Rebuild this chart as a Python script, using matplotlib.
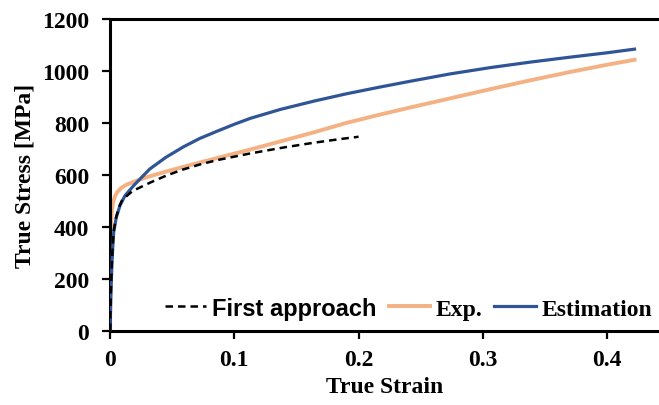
import matplotlib.pyplot as plt
from matplotlib.ticker import FuncFormatter

# Exp. flow curve (true strain, true stress in MPa)
exp_strain = [0, 0.0003, 0.0008, 0.0015, 0.0025, 0.004, 0.006, 0.009, 0.013, 0.019,
              0.032, 0.045, 0.058, 0.086, 0.113, 0.137, 0.164, 0.19, 0.217, 0.241,
              0.274, 0.306, 0.338, 0.37, 0.4, 0.422]
exp_stress = [0, 250, 400, 462, 496, 518, 535, 550, 562, 574,
              595, 613, 630, 665, 698, 729, 764, 800, 832, 859,
              895, 930, 964, 996, 1024, 1043]

# Estimation
est_strain = [0, 0.0008, 0.0015, 0.0022, 0.003, 0.005, 0.008, 0.012, 0.019, 0.032,
              0.045, 0.059, 0.072, 0.086, 0.1, 0.113, 0.137, 0.164, 0.19, 0.217, 0.241,
              0.274, 0.306, 0.338, 0.37, 0.4, 0.422]
est_stress = [0, 150, 250, 320, 380, 435, 482, 520, 559, 623,
              668, 708, 740, 768, 795, 818, 852, 884, 912, 938, 960,
              989, 1013, 1034, 1053, 1070, 1084]

# First approach
fa_strain = [0, 0.0008, 0.0015, 0.0022, 0.003, 0.005, 0.008, 0.01, 0.018, 0.032,
             0.045, 0.058, 0.072, 0.086, 0.113, 0.14, 0.164, 0.185, 0.2]
fa_stress = [0, 160, 260, 330, 385, 440, 485, 505, 538, 570,
             597, 620, 640, 657, 683, 706, 724, 738, 747]

plt.rcParams['font.family'] = 'Liberation Serif'
plt.rcParams['font.weight'] = 'bold'
plt.rcParams['font.size'] = 17

fig = plt.figure(figsize=(6.59, 4.06), dpi=100)
ax = fig.add_axes([0.1669, 0.1823, 0.8331, 0.7685])

l_exp, = ax.plot(exp_strain, exp_stress, color='#F4B183', lw=2.8, label='Exp.', zorder=2)
l_est, = ax.plot(est_strain, est_stress, color='#2F5597', lw=2.3, label='Estimation', zorder=3)
l_fa, = ax.plot(fa_strain, fa_stress, color='black', lw=1.8, ls=(0, (3, 2)),
                label='First approach', zorder=4)

ax.set_xlim(0, 0.4417)
ax.set_ylim(0, 1200)
ax.set_xticks([0, 0.1, 0.2, 0.3, 0.4])
ax.set_yticks(range(0, 1201, 200))
ax.xaxis.set_major_formatter(FuncFormatter(lambda v, p: '%g' % v))

ax.spines['right'].set_visible(False)
for s in ['left', 'bottom', 'top']:
    ax.spines[s].set_linewidth(2.2)
ax.tick_params(direction='out', length=6, width=1.6)
ax.tick_params(axis='y', pad=9)
ax.tick_params(axis='x', pad=7)

ax.set_xlabel('True Strain', fontweight='bold', labelpad=4.5)
ax.set_ylabel('True Stress [MPa]', fontweight='bold', labelpad=5)

leg = ax.legend(handles=[l_fa, l_exp, l_est], loc='lower right', ncol=3, frameon=False,
                handlelength=1.75, handletextpad=0.25, columnspacing=0.5,
                bbox_to_anchor=(1.005, 0.006), borderaxespad=0.0)
leg.get_texts()[0].set_fontfamily('Liberation Sans')

fig.savefig('out.png', dpi=100)
